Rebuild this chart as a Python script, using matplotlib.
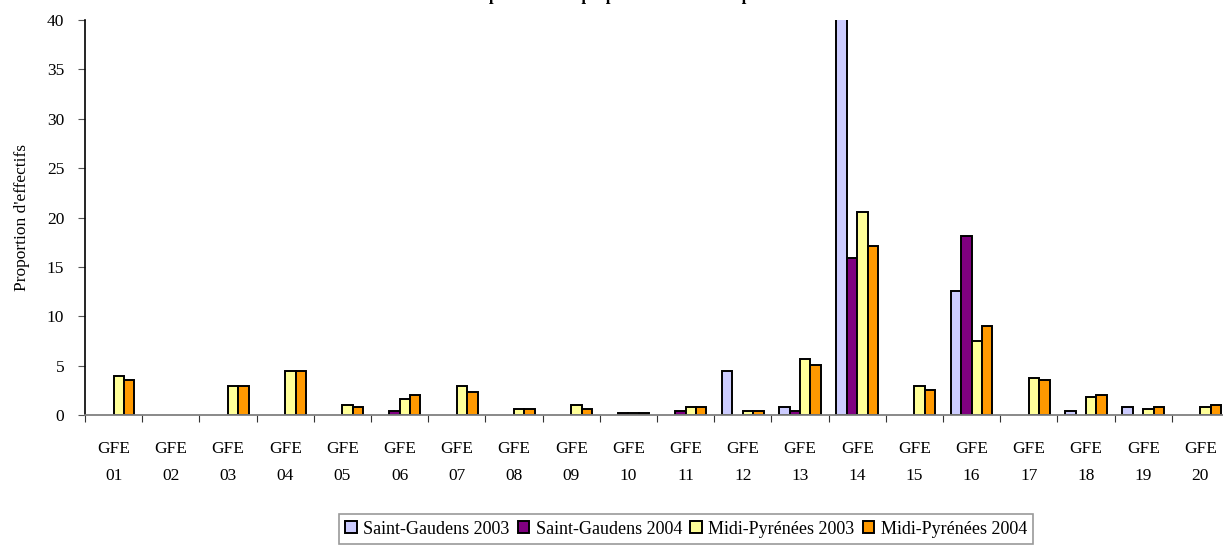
import numpy as np
import matplotlib
matplotlib.use("Agg")
import matplotlib.pyplot as plt
from matplotlib.patches import Patch

plt.rcParams['font.family'] = ['Liberation Serif', 'DejaVu Serif']

# categories and series (proportion d'effectifs, %)
gfe = ["01", "02", "03", "04", "05", "06", "07", "08", "09", "10",
       "11", "12", "13", "14", "15", "16", "17", "18", "19", "20"]
sg_2003 = [0, 0, 0, 0, 0, 0, 0, 0, 0, 0,
           0, 4.5, 0.85, 40.1, 0, 12.6, 0, 0.45, 0.85, 0]
sg_2004 = [0, 0, 0, 0, 0, 0.45, 0, 0, 0, 0.2,
           0.4, 0, 0.4, 15.9, 0, 18.1, 0, 0, 0, 0]
mp_2003 = [3.9, 0, 2.9, 4.5, 1.0, 1.65, 2.9, 0.65, 1.05, 0.2,
           0.85, 0.45, 5.7, 20.6, 2.9, 7.5, 3.7, 1.85, 0.65, 0.85]
mp_2004 = [3.5, 0, 2.9, 4.5, 0.85, 2.05, 2.3, 0.65, 0.65, 0.2,
           0.85, 0.45, 5.1, 17.1, 2.5, 9.0, 3.5, 2.05, 0.85, 1.05]

series = [
    ("Saint-Gaudens 2003", sg_2003, "#CCCCFF"),
    ("Saint-Gaudens 2004", sg_2004, "#800080"),
    ("Midi-Pyrénées 2003", mp_2003, "#FFFF99"),
    ("Midi-Pyrénées 2004", mp_2004, "#FF9900"),
]

fig = plt.figure(figsize=(12.23, 5.59), dpi=100)
ax = fig.add_axes([85 / 1223, 1 - 415 / 559, 1144 / 1223, 395 / 559])

x = np.arange(len(gfe))
w = 1 / 5.5
handles = []
for i, (name, vals, col) in enumerate(series):
    # empty bars are not outlined
    lws = [1.4 if v > 0 else 0 for v in vals]
    ax.bar(x + (i - 1.5) * w, vals, w, color=col, edgecolor="black",
           linewidth=lws)
    handles.append(Patch(facecolor=col, edgecolor="black", linewidth=1.4,
                         label=name))

ax.set_xlim(-0.5, len(gfe) - 0.5)
ax.set_ylim(0, 40)
ax.set_yticks(range(0, 41, 5))
ax.tick_params(axis="y", labelsize=12.5, length=5, color="#555555", pad=10)

# ticks between categories, labels in the middle
ax.set_xticks(np.arange(len(gfe) + 1) - 0.5)
ax.set_xticklabels([])
ax.set_xticks(x, minor=True)
ax.set_xticklabels(["GFE\n" + g for g in gfe], minor=True, fontsize=12.5,
                   linespacing=1.85)
ax.tick_params(axis="x", which="major", length=5, color="#333333")
ax.tick_params(axis="x", which="minor", length=0, pad=19)

for s in ["top", "right"]:
    ax.spines[s].set_visible(False)
ax.spines["bottom"].set_color("#808080")
ax.spines["bottom"].set_linewidth(1.3)
ax.spines["left"].set_linewidth(1.2)

ax.set_ylabel("Proportion d'effectifs", fontsize=12.5, labelpad=12)

fig.text(630 / 1223, 1.0, "Comparaison des proportions d'effectifs par GFE",
         ha="center", va="baseline", fontsize=12, fontweight="bold")

leg = fig.legend(handles=handles, loc="center",
                 bbox_to_anchor=(686 / 1223, 1 - 529 / 559),
                 ncol=4, fontsize=13, frameon=True, fancybox=False,
                 handlelength=0.65, handleheight=0.65, handletextpad=0.35,
                 columnspacing=0.45, borderpad=0.35, borderaxespad=0)
leg.get_frame().set_edgecolor("#808080")
leg.get_frame().set_linewidth(1.2)

fig.savefig("out.png", dpi=100)
